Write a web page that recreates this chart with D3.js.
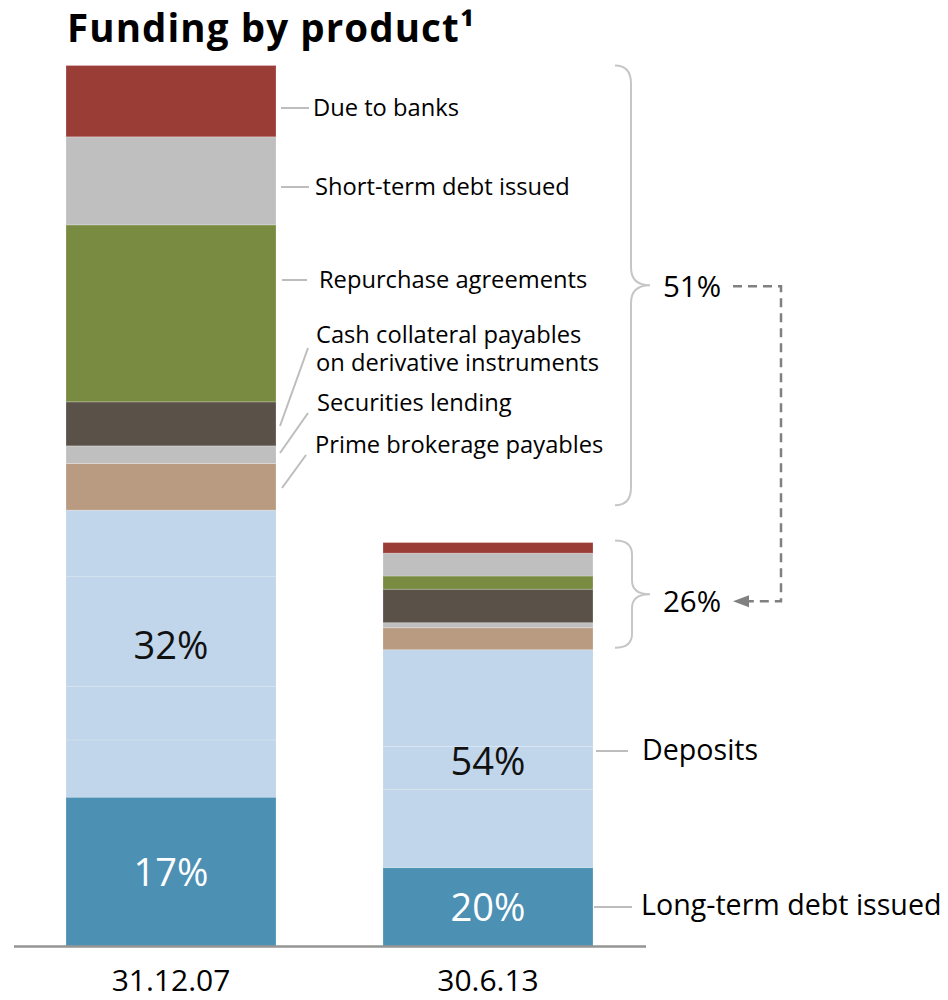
<!DOCTYPE html>
<html><head><meta charset="utf-8">
<script src="https://cdn.jsdelivr.net/npm/d3@7/dist/d3.min.js"></script>
<style>
body{margin:0;background:#fff}
text{font-family:"Open Sans","Noto Sans",sans-serif}
</style>
</head><body>
<svg id="chart" width="948" height="1000"></svg>
<script>
// ---------- data ----------
const categories = ["31.12.07", "30.6.13"];
const longTermDebt      = [16.9, 8.9];
const depositsPart1     = [6.5, 8.9];
const depositsPart2     = [6.1, 4.85];
const depositsPart3     = [12.5, 11.0];
const depositsPart4     = [7.5, 0];
const primeBrokerage    = [5.3, 2.5];
const securitiesLending = [2.0, 0.57];
const cashCollateral    = [5.0, 3.8];
const repurchase        = [20.1, 1.5];
const shortTermDebt     = [10.0, 2.6];
const dueToBanks        = [8.1, 1.2];
const ltdPctLabels      = ["17%", "20%"];
const depositPctLabels  = ["32%", "54%"];
const otherPctLabels    = ["51%", "26%"];
const seriesKeys = ["ltd","dep1","dep2","dep3","dep4","prime","secLend","cash","repo","short","due"];
const seriesLabels = {
  due: ["Due to banks"],
  short: ["Short-term debt issued"],
  repo: ["Repurchase agreements"],
  cash: ["Cash collateral payables", "on derivative instruments"],
  secLend: ["Securities lending"],
  prime: ["Prime brokerage payables"],
  dep1: ["Deposits"],
  ltd: ["Long-term debt issued"]
};
const colors = {
  ltd:"#4c90b4", dep1:"#c1d6ea", dep2:"#c1d6ea", dep3:"#c1d6ea", dep4:"#c1d6ea",
  prime:"#b89b80", secLend:"#bfbfbf", cash:"#5a5149", repo:"#798b41",
  short:"#bfbfbf", due:"#9b3d37"
};

// ---------- build table ----------
const table = categories.map((c, i) => ({
  cat: c,
  ltd: longTermDebt[i], dep1: depositsPart1[i], dep2: depositsPart2[i],
  dep3: depositsPart3[i], dep4: depositsPart4[i], prime: primeBrokerage[i],
  secLend: securitiesLending[i], cash: cashCollateral[i], repo: repurchase[i],
  short: shortTermDebt[i], due: dueToBanks[i]
}));
const stack = d3.stack().keys(seriesKeys)(table);

const svg = d3.select("#chart");
const x = d3.scaleBand().domain(categories).range([66, 593]).paddingInner(0.3375).paddingOuter(0);
const y = d3.scaleLinear().domain([0, 100]).range([946, 65.5]);

// title
svg.append("text").attr("x", 67).attr("y", 42)
  .style("font-weight", 700).style("font-size", "38.5px").style("letter-spacing", "1.1px")
  .attr("fill", "#000")
  .text("Funding by product¹");

// bars
const layers = svg.append("g").selectAll("g").data(stack).join("g")
  .attr("fill", d => colors[d.key]);
layers.selectAll("rect").data(d => d.map(p => ({p, key: d.key}))).join("rect")
  .attr("x", d => x(d.p.data.cat))
  .attr("width", x.bandwidth())
  .attr("y", d => y(d.p[1]))
  .attr("height", d => Math.max(0, y(d.p[0]) - y(d.p[1])))
  .attr("stroke", d => d.key.startsWith("dep") ? "rgba(255,255,255,0.16)" : "rgba(255,255,255,0.22)")
  .attr("stroke-width", 1);

// baseline & category axis
svg.append("line").attr("x1", 14).attr("x2", 646).attr("y1", 946.5).attr("y2", 946.5)
  .attr("stroke", "#949494").attr("stroke-width", 2.5);
const axis = svg.append("g").attr("transform", "translate(0,946)")
  .call(d3.axisBottom(x).tickSize(0).tickPadding(0));
axis.select(".domain").remove();
axis.selectAll("text").attr("y", 45).attr("dy", 0)
  .style("font-size", "30px").style("font-family", '"Open Sans",sans-serif').attr("fill", "#000");

// in-bar percentage labels
const segMid = (key0, key1, i) => {
  const s0 = stack.find(s => s.key === key0)[i], s1 = stack.find(s => s.key === key1)[i];
  return (y(s0[0]) + y(s1[1])) / 2;
};
const pctSize = 38;
categories.forEach((c, i) => {
  const cx = x(c) + x.bandwidth() / 2;
  const depShift = [-8, 3][i];
  svg.append("text").attr("x", cx).attr("y", segMid("dep1", "dep4", i) + depShift + pctSize * 0.36)
    .attr("text-anchor", "middle").style("font-size", pctSize + "px").attr("fill", "#111")
    .text(depositPctLabels[i]);
  svg.append("text").attr("x", cx).attr("y", segMid("ltd", "ltd", i) + pctSize * 0.36 + 1)
    .attr("text-anchor", "middle").style("font-size", pctSize + "px").attr("fill", "#fff")
    .text(ltdPctLabels[i]);
});

// callout labels
const leaderColor = "#bdbdbd";
const labelSize = 23.7;
const callouts = [
  {key:"due",     lines:[[281,108],[309,108]], tx:313, ty:[116]},
  {key:"short",   lines:[[281,187],[309,187]], tx:315, ty:[195]},
  {key:"repo",    lines:[[282,280],[307,280]], tx:319, ty:[288]},
  {key:"cash",    lines:[[280,426],[308,348]], tx:316, ty:[343, 371]},
  {key:"secLend", lines:[[280,453],[308,413]], tx:317, ty:[411]},
  {key:"prime",   lines:[[282,488],[306,455]], tx:315, ty:[453]},
  {key:"dep1",    lines:[[596,751],[628,751]], tx:642, ty:[760]},
  {key:"ltd",     lines:[[594,907],[632,907]], tx:641, ty:[915]}
];
callouts.forEach(c => {
  svg.append("line").attr("x1", c.lines[0][0]).attr("y1", c.lines[0][1])
    .attr("x2", c.lines[1][0]).attr("y2", c.lines[1][1])
    .attr("stroke", leaderColor).attr("stroke-width", 2);
  const big = (c.key === "dep1" || c.key === "ltd");
  const t = svg.append("text").style("font-size", (big ? 28.6 : labelSize) + "px").attr("fill", "#000");
  seriesLabels[c.key].forEach((line, j) => {
    t.append("tspan").attr("x", c.tx).attr("y", c.ty[j]).text(line);
  });
});

// braces
function brace(y0, y1, x0, xv, xt, r) {
  const ym = (y0 + y1) / 2;
  return `M${x0},${y0} Q${xv},${y0} ${xv},${y0 + r} L${xv},${ym - r} Q${xv},${ym} ${xt},${ym}` +
         ` Q${xv},${ym} ${xv},${ym + r} L${xv},${y1 - r} Q${xv},${y1} ${x0},${y1}`;
}
const topOther = [y(stack.find(s => s.key === "due")[0][1]), y(stack.find(s => s.key === "due")[1][1])];
const botOther = [y(stack.find(s => s.key === "prime")[0][0]), y(stack.find(s => s.key === "prime")[1][0])];
svg.append("path").attr("d", brace(topOther[0], botOther[0] - 5, 615, 631, 650, 18))
  .attr("fill", "none").attr("stroke", "#c6c6c6").attr("stroke-width", 2);
svg.append("path").attr("d", brace(topOther[1] - 2, botOther[1] - 2, 615, 632, 650, 14))
  .attr("fill", "none").attr("stroke", "#c6c6c6").attr("stroke-width", 2);

const m1 = (topOther[0] + botOther[0] - 5) / 2, m2 = (topOther[1] + botOther[1] - 4) / 2;
svg.append("text").attr("x", 663).attr("y", m1 + 12).style("font-size", "29.5px").attr("fill", "#000").text(otherPctLabels[0]);
svg.append("text").attr("x", 663).attr("y", m2 + 18).style("font-size", "29.5px").attr("fill", "#000").text(otherPctLabels[1]);

// dashed arrow
svg.append("path")
  .attr("d", `M733,${m1+1} L781,${m1+1} L781,${m2+7} L747,${m2+7}`)
  .attr("fill", "none").attr("stroke", "#808080").attr("stroke-width", 2.5)
  .attr("stroke-dasharray", "9,6");
svg.append("path").attr("d", `M733,${m2+7} L749,${m2+1} L749,${m2+13} Z`).attr("fill", "#808080");
</script>
</body></html>
